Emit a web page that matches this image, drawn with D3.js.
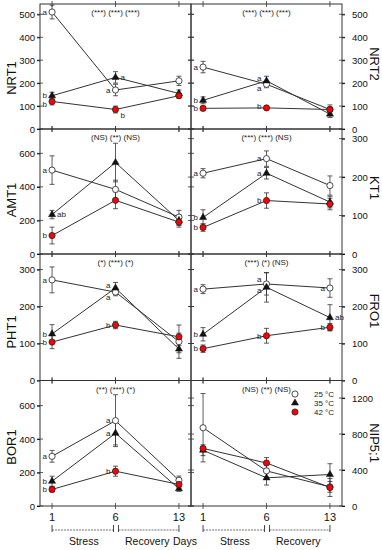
<!DOCTYPE html>
<html>
<head>
<meta charset="utf-8">
<script src="https://cdn.jsdelivr.net/npm/d3@7"></script>
<style>
  body { margin: 0; background: #fff; }
  svg { display: block; font-family: "Liberation Sans", Arial, sans-serif; }
</style>
</head>
<body>
<div id="chart"></div>
<script>
// x categories and series
const days = ["1", "6", "13"]
const series = ["25 °C", "35 °C", "42 °C"]

// means [series][day] and error bars
const nrt1 = [[510, 170, 210], [145, 225, 155], [120, 85, 145]]
const nrt1Err = [[30, 25, 20], [15, 25, 15], [15, 15, 10]]
const nrt2 = [[270, 195, 85], [125, 210, 65], [90, 92, 85]]
const nrt2Err = [[25, 15, 20], [15, 20, 15], [10, 5, 10]]
const amt1 = [[500, 385, 220], [235, 545, 200], [110, 320, 190]]
const amt1Err = [[85, 55, 40], [25, 115, 30], [50, 50, 30]]
const kt1 = [[210, 248, 178], [95, 210, 135], [69, 139, 130]]
const kt1Err = [[12, 20, 25], [20, 15, 15], [10, 20, 15]]
const pht1 = [[272, 239, 105], [126, 250, 85], [104, 150, 118]]
const pht1Err = [[35, 10, 45], [25, 15, 10], [18, 10, 10]]
const fro1 = [[247, 261, 250], [125, 252, 170], [86, 121, 144]]
const fro1Err = [[12, 30, 25], [18, 40, 35], [10, 20, 10]]
const bor1 = [[297, 510, 154], [148, 435, 103], [99, 208, 129]]
const bor1Err = [[35, 155, 25], [30, 70, 15], [15, 30, 20]]
const nip51 = [[870, 390, 213], [620, 313, 350], [640, 478, 206]]
const nip51Err = [[380, 70, 60], [60, 80, 120], [20, 60, 100]]

// significance text above each panel
const sigText = ["(***) (***) (***)", "(***) (***) (***)", "(NS) (**) (NS)", "(***) (***) (NS)",
                 "(*) (***) (*)", "(***) (*) (NS)", "(**) (***) (*)", "(NS) (**) (NS)"]

// letters: [series, day, text, side, nudge]
const nrt1Letters = [[0,0,"a"],[1,0,"b","l",-1],[2,0,"b","l",3],[0,1,"a"],[1,1,"a","r"],[2,1,"b","r",6]]
const nrt2Letters = [[0,0,"a"],[1,0,"b"],[2,0,"b"],[1,1,"a","l",-3],[0,1,"a","l",4],[2,1,"b","l",-2]]
const amt1Letters = [[0,0,"a"],[1,0,"ab","r"],[2,0,"b"]]
const kt1Letters = [[0,0,"a"],[1,0,"b"],[2,0,"b"],[0,1,"a"],[1,1,"a"],[2,1,"b"]]
const pht1Letters = [[0,0,"a"],[1,0,"b"],[2,0,"b"],[1,1,"a","l",-3],[0,1,"a","l",5],[2,1,"b"]]
const fro1Letters = [[0,0,"a"],[1,0,"b"],[2,0,"b"],[0,1,"a","l",-5],[1,1,"a","l",3],[2,1,"b"],
                     [0,2,"a"],[1,2,"ab","r"],[2,2,"b"]]
const bor1Letters = [[0,0,"a"],[1,0,"b"],[2,0,"b"],[0,1,"a"],[1,1,"a"],[2,1,"b"]]
const nip51Letters = []

const width = 382
const height = 550

const cols = [[40, 191], [191, 342]]
const rows = [[4, 129], [129, 254], [254, 380.5], [380.5, 506]]
const leftTitleY = [78, 200, 332, 447]
const rightTitleY = [64, 188, 311, 443]

const panels = [
  {name: "NRT1", mean: nrt1, err: nrt1Err, max: 545, ticks: d3.range(0, 501, 100), letters: nrt1Letters},
  {name: "NRT2", mean: nrt2, err: nrt2Err, max: 545, ticks: d3.range(0, 501, 100), letters: nrt2Letters},
  {name: "AMT1", mean: amt1, err: amt1Err, max: 745, ticks: [0, 200, 400, 600], letters: amt1Letters},
  {name: "KT1", mean: kt1, err: kt1Err, max: 325, ticks: [0, 100, 200, 300], letters: kt1Letters},
  {name: "PHT1", mean: pht1, err: pht1Err, max: 342, ticks: [0, 100, 200, 300], letters: pht1Letters},
  {name: "FRO1", mean: fro1, err: fro1Err, max: 342, ticks: [0, 100, 200, 300], letters: fro1Letters},
  {name: "BOR1", mean: bor1, err: bor1Err, max: 750, ticks: [0, 200, 400, 600], letters: bor1Letters},
  {name: "NIP5;1", mean: nip51, err: nip51Err, max: 1395, ticks: [0, 400, 800, 1200], letters: nip51Letters}
]

const ink = "#333"
const fills = ["#fff", "#111", "#f00"]

const svg = d3.select("#chart").append("svg")
  .attr("width", width)
  .attr("height", height)

const sym = d3.symbol().type(d3.symbolTriangle).size(22)

function marker(g, s, cx, cy) {
  if (s == 1) {
    g.append("path").attr("d", sym).attr("transform", `translate(${cx},${cy})`)
      .attr("fill", fills[1]).attr("stroke", "#111").attr("stroke-width", 0.5)
  } else {
    g.append("circle").attr("cx", cx).attr("cy", cy).attr("r", 3.1)
      .attr("fill", fills[s]).attr("stroke", "#222").attr("stroke-width", 0.8)
  }
}

panels.forEach(function(p, i) {
  const c = i % 2, r = Math.floor(i / 2)
  const [x0, x1] = cols[c]
  const [y0, y1] = rows[r]
  const x = d3.scalePoint().domain(days).range([x0, x1]).padding(0.19)
  const y = d3.scaleLinear().domain([0, p.max]).range([y1, y0])
  const g = svg.append("g")

  // box
  g.append("rect").attr("x", x0).attr("y", y0).attr("width", x1 - x0).attr("height", y1 - y0)
    .attr("fill", "none").attr("stroke", ink).attr("stroke-width", 1)

  // y tick labels on the outer side
  const outerX = c == 0 ? x0 : x1
  const innerX = c == 0 ? x1 : x0
  const yl = g.append("g").attr("transform", `translate(${outerX},0)`)
    .call((c == 0 ? d3.axisLeft(y).tickPadding(2) : d3.axisRight(y).tickPadding(7))
      .tickValues(p.ticks).tickFormat(d3.format("d")).tickSize(3))
  yl.select(".domain").remove()
  yl.selectAll("text").attr("font-size", 9.5).attr("fill", "#111")
    .attr("font-family", "Liberation Sans, Arial, sans-serif")
  // crossing ticks on both sides
  ;[outerX, innerX].forEach(function(ax) {
    g.append("g").selectAll("line").data(p.ticks).join("line")
      .attr("x1", ax - 3).attr("x2", ax + 3)
      .attr("y1", d => y(d)).attr("y2", d => y(d))
      .attr("stroke", ink).attr("stroke-width", 0.8)
  })
  // x ticks top & bottom
  ;[y0, y1].forEach(function(ay) {
    g.append("g").selectAll("line").data(days).join("line")
      .attr("x1", d => x(d)).attr("x2", d => x(d))
      .attr("y1", ay - 3).attr("y2", ay + 3)
      .attr("stroke", ink).attr("stroke-width", 0.8)
  })

  // axis title
  const tx = c == 0 ? 11 : 375
  const ty = c == 0 ? leftTitleY[r] : rightTitleY[r]
  g.append("text").attr("transform", `translate(${tx},${ty}) rotate(${c == 0 ? -90 : 90})`)
    .attr("text-anchor", "middle").attr("dy", "0.35em")
    .attr("font-size", 13).attr("fill", "#111").text(p.name)

  // significance
  g.append("text").attr("x", x("6")).attr("y", y0 + 11)
    .attr("text-anchor", "middle").attr("font-size", 8).attr("fill", "#222")
    .text(sigText[i])

  // lines
  const line = d3.line().x((d, j) => x(days[j])).y(d => y(d))
  p.mean.forEach(function(m) {
    g.append("path").attr("d", line(m)).attr("fill", "none")
      .attr("stroke", ink).attr("stroke-width", 1)
  })

  // error bars
  p.mean.forEach(function(m, s) {
    m.forEach(function(v, j) {
      const e = p.err[s][j], cx = x(days[j])
      const eb = g.append("g").attr("stroke", ink).attr("stroke-width", 0.8)
      eb.append("line").attr("x1", cx).attr("x2", cx).attr("y1", y(v - e)).attr("y2", y(v + e))
      eb.append("line").attr("x1", cx - 2.5).attr("x2", cx + 2.5).attr("y1", y(v - e)).attr("y2", y(v - e))
      eb.append("line").attr("x1", cx - 2.5).attr("x2", cx + 2.5).attr("y1", y(v + e)).attr("y2", y(v + e))
    })
  })

  // markers
  p.mean.forEach(function(m, s) {
    m.forEach(function(v, j) { marker(g, s, x(days[j]), y(v)) })
  })

  // letters
  p.letters.forEach(function(l) {
    const [s, j, t, side, dy] = l
    const cx = x(days[j]), cy = y(p.mean[s][j]) + (dy || 0)
    g.append("text")
      .attr("x", side == "r" ? cx + 5 : cx - 5).attr("y", cy).attr("dy", "0.35em")
      .attr("text-anchor", side == "r" ? "start" : "end")
      .attr("font-size", 8).attr("fill", "#222").text(t)
  })

  // bottom row: x labels and period brackets
  if (r == 3) {
    g.selectAll(".xl").data(days).join("text")
      .attr("x", d => x(d)).attr("y", 521)
      .attr("text-anchor", "middle").attr("font-size", 11).attr("fill", "#111").text(d => d)
    const periods = [[days[0], days[1], "Stress", 0, -2], [days[1], days[2], "Recovery", 3, 0]]
    periods.forEach(function(pr) {
      const a = x(pr[0]) + pr[3], b = x(pr[1]) + pr[4]
      const bg = g.append("g").attr("stroke", ink).attr("stroke-width", 0.9)
      bg.append("line").attr("x1", a).attr("x2", a).attr("y1", 525).attr("y2", 532)
      bg.append("line").attr("x1", b).attr("x2", b).attr("y1", 525).attr("y2", 532)
      bg.append("line").attr("x1", a).attr("x2", b).attr("y1", 530).attr("y2", 530)
        .attr("stroke-dasharray", "2,1").attr("stroke-width", 0.7)
      g.append("text").attr("x", (x(pr[0]) + x(pr[1])) / 2).attr("y", 545)
        .attr("text-anchor", "middle").attr("font-size", 10.5).attr("fill", "#111").text(pr[2])
    })
  }
})

svg.append("text").attr("x", 185).attr("y", 545).attr("text-anchor", "middle")
  .attr("font-size", 10.5).attr("fill", "#111").text("Days")

// legend
const lg = svg.append("g")
series.forEach(function(s, k) {
  const ly = 394 + k * 9
  marker(lg, k, 295, ly)
  lg.append("text").attr("x", 314).attr("y", ly).attr("dy", "0.35em")
    .attr("font-size", 8).attr("fill", "#222").text(s)
})
</script>
</body>
</html>
